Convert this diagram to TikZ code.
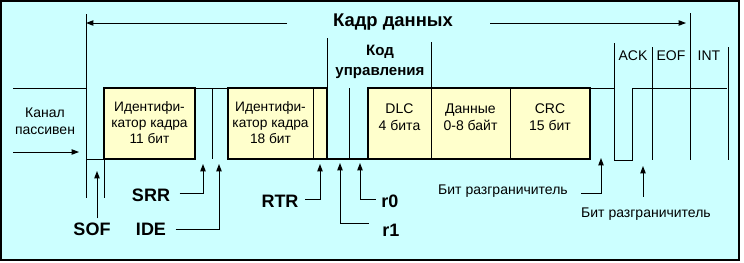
\documentclass[tikz,border=0pt]{standalone}
\usepackage{fontspec}
\setmainfont{Liberation Sans}
\usetikzlibrary{arrows.meta}
\definecolor{bgcyan}{RGB}{204,255,255}
\definecolor{boxyel}{RGB}{255,255,204}
\begin{document}
\begin{tikzpicture}[x=0.75pt,y=-0.75pt,
  wire/.style={line width=0.75pt},
  heavy/.style={line width=1.5pt},
  thickbox/.style={draw,line width=1.5pt,fill=boxyel},
  arr/.style={line width=0.75pt,-{Triangle[length=5.5pt,width=4pt]}},
  txt/.style={inner sep=0pt,font=\fontsize{10.3}{12}\selectfont,align=center},
  ftxt/.style={inner sep=0pt,font=\fontsize{10.5}{13}\selectfont,align=center},
  btxt/.style={inner sep=0pt,font=\fontsize{13.5}{15}\bfseries\selectfont},
  ttxt/.style={inner sep=0pt,font=\fontsize{13.8}{16}\bfseries\selectfont},
  ctxt/.style={inner sep=0pt,font=\fontsize{11.3}{15}\bfseries\selectfont,align=center},
]
\useasboundingbox (0,0) rectangle (744,262);
\fill[white] (0,0) rectangle (744,262);
\draw[fill=bgcyan,line width=1.2pt] (1,1) rectangle (739,260);

% ---- coordinates on the waveform
\coordinate (pstart) at (13,88);
\coordinate (sofTop) at (86,14);
\coordinate (sofBot) at (86,198);
\coordinate (sofLow) at (86,159);
\coordinate (b1Low) at (104,159);
\coordinate (b1Bot) at (104,198);

% ---- boxes
\draw[thickbox] (104,88) rectangle (195,159);
\draw[thickbox] (228,88) rectangle (327,159);
\draw[thickbox] (368,88) rectangle (590,159);

% ---- waveform
\draw[wire] (pstart) -- (86,88);
\draw[wire] (sofTop) -- (sofBot);
\draw[wire] (sofLow) -- (b1Low) -- (b1Bot);
\draw[wire] (195,88) -- (228,88);
\draw[wire] (212,88) -- (212,159);
\draw[wire] (313,88) -- (313,159);
\draw[wire] (327,38) -- (327,159);
\draw[heavy] (327,159) -- (368,159);
\draw[wire] (349,88) -- (349,159);
\draw[wire] (431,42) -- (431,159);
\draw[wire] (510,88) -- (510,159);
\draw[wire] (590,88) -- (614,88);
\draw[wire] (614,43) -- (614,160) -- (632,160) -- (632,88) -- (727,88);
\draw[wire] (652,47) -- (652,160);
\draw[wire] (690,13) -- (690,160);
\draw[wire] (728,47) -- (728,160);

% ---- texts
\node[ttxt] (frame) at (393,22) {Кадр данных};
\coordinate (frameL) at (86,23);
\coordinate (frameR) at (686,23);
\coordinate (frameLs) at (287,23);
\coordinate (frameRs) at (490,23);
\draw[arr] (frameLs) -- (frameL);
\draw[arr] (frameRs) -- (frameR);

\node[ctxt] (ctrl) at (380,62) {Код\\управления};
\node[ftxt] (idle) at (45,121) {Канал\\пассивен};
\coordinate (idleS) at (13,152);
\coordinate (idleE) at (79,152);
\draw[arr] (idleS) -- (idleE);

\node[txt] (id11) at (149.5,123) {Идентифи-\\катор кадра\\11 бит};
\node[txt] (id18) at (270.5,123) {Идентифи-\\катор кадра\\18 бит};
\node[ftxt] (dlc) at (399.5,117) {DLC\\4 бита};
\node[ftxt] (data) at (470.5,117) {Данные\\0-8 байт};
\node[ftxt] (crc) at (550,117) {CRC\\15 бит};

\node[ftxt] (ack) at (633,56) {ACK};
\node[ftxt] (eof) at (671,56) {EOF};
\node[ftxt] (int) at (709,56) {INT};

% ---- annotation labels
\node[btxt] (sof) at (92,229) {SOF};
\node[btxt] (srr) at (151,195) {SRR};
\node[btxt] (ide) at (151,229) {IDE};
\node[btxt] (rtr) at (280,201) {RTR};
\node[btxt] (rz) at (390,201) {r0};
\node[btxt] (ro) at (391,230) {r1};
\node[ftxt] (del1) at (503,191) {Бит разграничитель};
\node[ftxt] (del2) at (646,214) {Бит разграничитель};

\coordinate (tSOF) at (97,171);
\coordinate (tSRR) at (203,164);
\coordinate (tIDE) at (219,164);
\coordinate (tRTR) at (320,164);
\coordinate (tR0) at (360,163);
\coordinate (tR1) at (340,163);
\coordinate (tD1) at (601,158);
\coordinate (tD2) at (643,166);

\draw[arr] ([yshift=3pt]sof.north -| tSOF) -- (tSOF);
\draw[arr] ([xshift=7pt,yshift=1pt]srr.east) -| (tSRR);
\draw[arr] ([xshift=7pt]ide.east) -| (tIDE);
\draw[arr] ([xshift=5pt,yshift=1pt]rtr.east) -| (tRTR);
\draw[arr] ([xshift=-4pt,yshift=1.5pt]rz.west) -| (tR0);
\draw[arr] ([xshift=-10pt,yshift=5pt]ro.west) -| (tR1);
\draw[arr] ([xshift=10pt,yshift=-1.5pt]del1.east) -| (tD1);
\draw[arr] ([yshift=8pt]del2.north -| tD2) -- (tD2);
\end{tikzpicture}
\end{document}
